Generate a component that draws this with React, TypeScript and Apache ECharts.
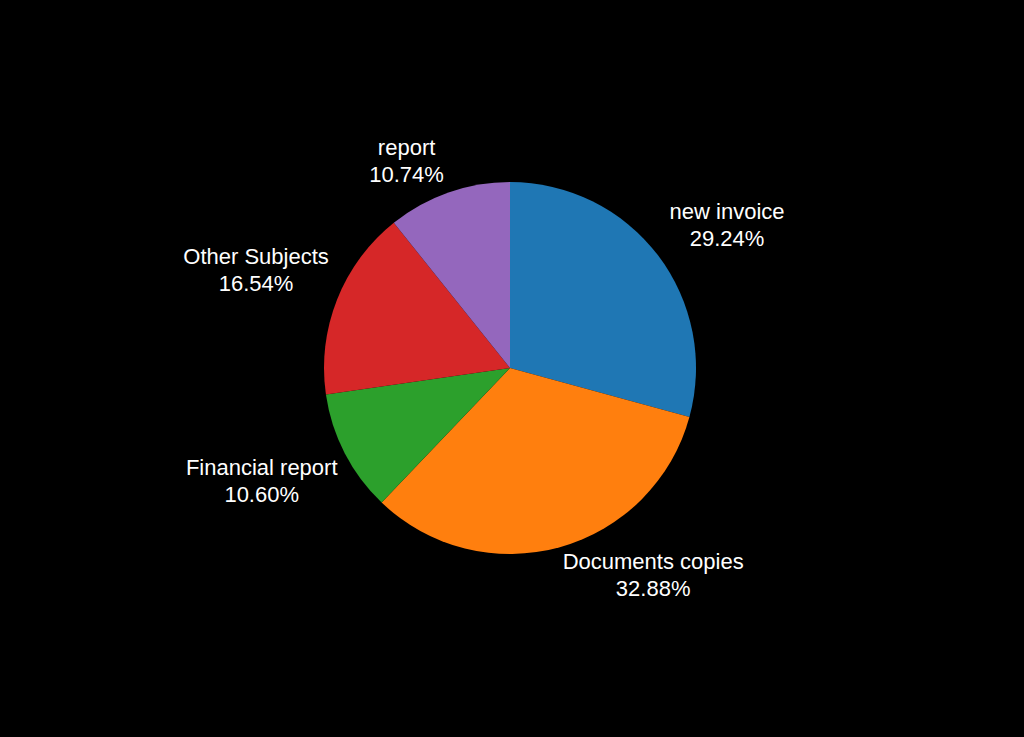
import React, { useEffect, useRef } from "react";
import * as echarts from "echarts";

const categories = ["new invoice", "Documents copies", "Financial report", "Other Subjects", "report"];
const shares = [29.24, 32.88, 10.6, 16.54, 10.74];
const colors = ["#1f77b4", "#ff7f0e", "#2ca02c", "#d62728", "#9467bd"];
// label nudges (px) relative to the ring mid-angle position
const labelOffsets: [number, number][] = [
  [12, 14],
  [74, -42],
  [-19, -5],
  [-14, -3],
  [-18, 36],
];

export default function App() {
  const ref = useRef<HTMLDivElement>(null);
  useEffect(() => {
    if (!ref.current) return;
    const chart = echarts.init(ref.current, null, { renderer: "svg" });
    const baseData = categories.map((name, i) => ({
      name,
      value: shares[i],
      itemStyle: { color: colors[i] },
    }));
    const labelData = categories.map((name, i) => ({
      name,
      value: shares[i],
      itemStyle: { color: "rgba(0,0,0,0)" },
      label: { offset: labelOffsets[i] },
    }));
    chart.setOption({
      animation: false,
      backgroundColor: "#000000",
      series: [
        {
          type: "pie",
          center: [510, 368],
          radius: 186,
          startAngle: 90,
          clockwise: true,
          label: { show: false },
          labelLine: { show: false },
          itemStyle: { borderWidth: 0 },
          emphasis: { disabled: true },
          data: baseData,
        },
        {
          type: "pie",
          center: [510, 368],
          radius: [240, 270],
          startAngle: 90,
          clockwise: true,
          silent: true,
          itemStyle: { borderWidth: 0 },
          emphasis: { disabled: true },
          labelLine: { show: false },
          label: {
            show: true,
            position: "inside",
            rotate: 0,
            color: "#ffffff",
            fontFamily: "'Liberation Sans', Arial, Helvetica, sans-serif",
            fontSize: 22,
            lineHeight: 27,
            align: "center",
            formatter: (p: any) => `${p.name}\n${Number(p.value).toFixed(2)}%`,
          },
          data: labelData,
        },
      ],
    });
    return () => chart.dispose();
  }, []);
  return (
    <div
      ref={ref}
      style={{ position: "fixed", left: 0, top: 0, width: 1024, height: 737, background: "#000" }}
    />
  );
}
